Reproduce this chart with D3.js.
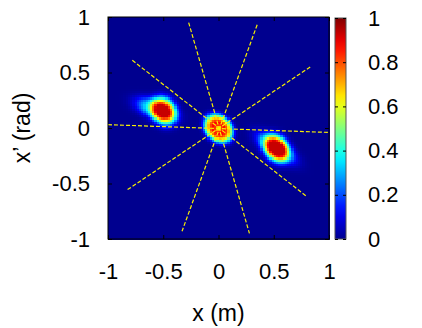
<!DOCTYPE html>
<html>
<head>
<meta charset="utf-8">
<script src="https://cdn.jsdelivr.net/npm/d3@7"></script>
<style>
  body { margin: 0; background: #fff; }
  text { font-family: "Liberation Sans", Arial, sans-serif; }
</style>
</head>
<body>
<div id="chart"></div>
<script>
// phase space density - blobs
const xTicks = [-1, -0.5, 0, 0.5, 1];
const yTicks = [-1, -0.5, 0, 0.5, 1];
const cTicks = [0, 0.2, 0.4, 0.6, 0.8, 1];

// components: centre, width along/across, tilt (deg), peak, profile power
// centre blob, centre dip, left core, left halo, right core, right halo
const blobX     = [0.00,  0.00, -0.495, -0.57,  0.525, 0.52];
const blobY     = [0.00,  0.00,  0.16,   0.175, -0.18, -0.175];
const blobSu    = [0.10,  0.02,  0.092,  0.13,  0.092, 0.14];
const blobSv    = [0.078, 0.02,  0.074,  0.06,  0.074, 0.058];
const blobAngle = [-45,   0,    -65,    -20,   -60,   -35];
const blobPeak  = [0.90, -0.25,  0.72,   0.40,  0.72,  0.40];
const blobPow   = [2,     1,     1.5,    1.3,   1.5,   1.3];

// dashed rays through the centre (end points)
const rayX1 = [-0.78,  0.83, -0.27,  0.35, -1.00];
const rayY1 = [ 0.61,  0.55,  0.95,  0.93,  0.03];
const rayX2 = [ 0.79, -0.83,  0.28, -0.33,  1.00];
const rayY2 = [-0.61, -0.56, -0.95, -0.93, -0.04];

const N = 100;

const W = 422, H = 328;
const svg = d3.select("#chart").append("svg")
    .attr("width", W).attr("height", H);

const x = d3.scaleLinear().domain([-1, 1]).range([108, 329]);
const y = d3.scaleLinear().domain([-1, 1]).range([239, 17]);

// jet
const jet = d3.scaleLinear()
    .domain([0, 0.125, 0.375, 0.625, 0.875, 1])
    .range(["#00008f", "#0000ff", "#00ffff", "#ffff00", "#ff0000", "#800000"])
    .clamp(true);

function density(px, py) {
    let v = 0;
    for (let i = 0; i < blobX.length; i++) {
        const a = blobAngle[i] * Math.PI / 180;
        const dx = px - blobX[i], dy = py - blobY[i];
        const u = dx * Math.cos(a) + dy * Math.sin(a);
        const w = -dx * Math.sin(a) + dy * Math.cos(a);
        const q = 0.5 * (u * u / (blobSu[i] * blobSu[i]) + w * w / (blobSv[i] * blobSv[i]));
        v += blobPeak[i] * Math.exp(-Math.pow(q, blobPow[i]));
    }
    return Math.max(0, Math.min(v, 0.93));
}

const cells = [];
const step = 2 / N;
for (let i = 0; i < N; i++) {
    for (let j = 0; j < N; j++) {
        const cx = -1 + (i + 0.5) * step, cy = -1 + (j + 0.5) * step;
        cells.push({ x0: -1 + i * step, y0: -1 + j * step, v: density(cx, cy) });
    }
}

const plot = svg.append("g");
plot.selectAll("rect.cell")
    .data(cells)
    .enter().append("rect")
    .attr("class", "cell")
    .attr("x", d => x(d.x0))
    .attr("y", d => y(d.y0 + step))
    .attr("width", x(step) - x(0) + 0.5)
    .attr("height", y(0) - y(step) + 0.5)
    .attr("fill", d => jet(d.v))
    .attr("shape-rendering", "crispEdges");

// dashed rays
plot.selectAll("line.ray")
    .data(rayX1.map((d, i) => i))
    .enter().append("line")
    .attr("x1", i => x(rayX1[i])).attr("y1", i => y(rayY1[i]))
    .attr("x2", i => x(rayX2[i])).attr("y2", i => y(rayY2[i]))
    .attr("stroke", "#f8f000")
    .attr("stroke-width", 1.2)
    .attr("stroke-dasharray", "4,2");

// axes
const fontSize = 22;
function styleAxis(g) {
    g.select(".domain").remove();
    g.selectAll("line").attr("stroke", "#000");
    g.selectAll("text").attr("font-size", fontSize).attr("fill", "#000")
        .attr("font-family", "Liberation Sans, Arial, sans-serif");
}
const fmt = d => String(d);

svg.append("g").attr("transform", `translate(0,${y(-1)})`)
    .call(d3.axisBottom(x).tickValues(xTicks).tickSizeInner(-4).tickSizeOuter(0).tickPadding(24).tickFormat(fmt))
    .call(styleAxis);
svg.append("g").attr("transform", `translate(0,${y(1)})`)
    .call(d3.axisTop(x).tickValues(xTicks).tickSizeInner(-4).tickSizeOuter(0).tickFormat(""))
    .call(styleAxis);
svg.append("g").attr("transform", `translate(${x(-1)},0)`)
    .call(d3.axisLeft(y).tickValues(yTicks).tickSizeInner(-4).tickSizeOuter(0).tickPadding(18).tickFormat(fmt))
    .call(styleAxis);
svg.append("g").attr("transform", `translate(${x(1)},0)`)
    .call(d3.axisRight(y).tickValues(yTicks).tickSizeInner(-4).tickSizeOuter(0).tickFormat(""))
    .call(styleAxis);

svg.append("rect")
    .attr("x", x(-1)).attr("y", y(1))
    .attr("width", x(1) - x(-1)).attr("height", y(-1) - y(1))
    .attr("fill", "none").attr("stroke", "#000").attr("stroke-width", 1);

// colour bar
const cb = { x: 335, w: 11 };
const c = d3.scaleLinear().domain([0, 1]).range([239, 18]);
const defs = svg.append("defs");
const grad = defs.append("linearGradient").attr("id", "jetgrad")
    .attr("x1", 0).attr("y1", 1).attr("x2", 0).attr("y2", 0);
grad.selectAll("stop")
    .data(d3.range(0, 1.0001, 0.05))
    .enter().append("stop")
    .attr("offset", d => d)
    .attr("stop-color", d => jet(d));

svg.append("rect")
    .attr("x", cb.x).attr("y", c(1))
    .attr("width", cb.w).attr("height", c(0) - c(1))
    .attr("fill", "url(#jetgrad)")
    .attr("stroke", "#555").attr("stroke-width", 1);

svg.append("g").attr("transform", `translate(${cb.x + cb.w},0)`)
    .call(d3.axisRight(c).tickValues(cTicks).tickSizeInner(-3).tickSizeOuter(0).tickPadding(22).tickFormat(fmt))
    .call(styleAxis);
svg.append("g").attr("transform", `translate(${cb.x},0)`)
    .call(d3.axisLeft(c).tickValues(cTicks).tickSizeInner(-3).tickSizeOuter(0).tickFormat(""))
    .call(styleAxis);

// axis titles
svg.append("text")
    .attr("x", (x(-1) + x(1)) / 2).attr("y", 321)
    .attr("text-anchor", "middle")
    .attr("font-size", 23)
    .text("x (m)");

svg.append("text")
    .attr("transform", `translate(30,${(y(-1) + y(1)) / 2}) rotate(-90)`)
    .attr("text-anchor", "middle")
    .attr("font-size", 23)
    .text("x’ (rad)");
</script>
</body>
</html>
